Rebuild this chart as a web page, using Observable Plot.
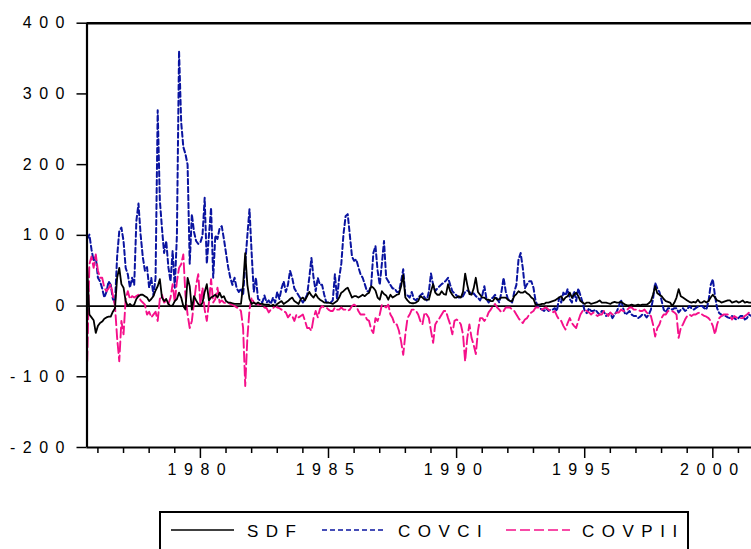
<!DOCTYPE html>
<html>
<head>
<meta charset="utf-8">
<script src="https://cdn.jsdelivr.net/npm/d3@7"></script>
<script src="https://cdn.jsdelivr.net/npm/@observablehq/plot@0.6"></script>
<style>
  html, body { margin: 0; padding: 0; background: #fff; }
  #chart { position: absolute; left: 0; top: 0; }
  #chart svg text { letter-spacing: 7.5px; font-size: 16px !important; }
  #legend { position: absolute; left: 159px; top: 511px; width: 530px; height: 40px; border: 2px solid #000; box-sizing: border-box; background: #fff; }
  #legend svg { position: absolute; left: 0; top: 0; }
  #legend text { font-family: "Liberation Sans", Arial, sans-serif; font-size: 17px; letter-spacing: 7.5px; fill: #000; }
</style>
</head>
<body>
<div id="chart"></div>
<div id="legend"></div>
<script>
// Monthly observations, first one 1975:08
const startYear = 1975, startMonth = 8;

const sdf = [
  54, -12, -16, -20, -38, -28, -24, -22, -18, -16,
  -15, -15, -8, -3, 40, 54, 31, 26, 7, 0,
  3, 0, 2, 10, 14, 16, 16, 14, 12, 7,
  10, 14, 22, 28, 38, 12, 7, 10, 3, 0,
  1, 7, 10, 19, 12, 0, -5, 40, 28, -5,
  14, 8, 3, 0, 5, 20, 31, 8, 12, 14,
  16, 12, 19, 12, 14, 7, 5, 5, 4, 3,
  3, 3, 3, 30, 75, 30, 10, 3, 5, 3,
  5, 3, 3, 2, 2, 2, 0, 2, 0, 3,
  5, 7, 3, 5, 7, 10, 12, 7, 5, 3,
  10, 12, 8, 14, 20, 15, 12, 17, 12, 9,
  7, 5, 5, 5, 4, 3, 5, 7, 12, 19,
  21, 24, 26, 19, 12, 14, 14, 12, 14, 16,
  14, 17, 19, 28, 26, 22, 12, 9, 21, 17,
  15, 9, 16, 12, 14, 16, 17, 28, 44, 12,
  8, 5, 4, 4, 5, 7, 14, 12, 9, 9,
  9, 21, 31, 19, 16, 16, 21, 17, 16, 31,
  21, 16, 12, 12, 14, 12, 20, 46, 30, 17,
  16, 25, 40, 20, 16, 12, 12, 9, 9, 7,
  7, 12, 9, 10, 12, 12, 12, 9, 7, 7,
  14, 17, 21, 19, 19, 21, 18, 16, 12, 10,
  2, 2, 2, 3, 3, 5, 5, 6, 7, 8,
  10, 12, 14, 8, 12, 14, 19, 12, 16, 19,
  14, 7, 5, 3, 5, 5, 3, 4, 5, 6,
  8, 5, 5, 5, 4, 3, 5, 6, 5, 5,
  6, 4, 2, 1, 1, 2, 1, 1, 2, 1,
  2, 2, 2, 4, 7, 16, 28, 18, 16, 14,
  10, 7, 6, 5, 0, 5, 12, 24, 14, 12,
  10, 8, 6, 5, 6, 5, 9, 5, 5, 7,
  5, 7, 12, 16, 12, 8, 7, 5, 6, 7,
  8, 8, 5, 6, 7, 5, 6, 8, 5, 6,
  5, 5
];

const covci = [
  95, 101, 80, 64, 70, 40, 35, 25, 12, 20,
  35, 30, 10, 5, 70, 106, 111, 92, 54, 45,
  26, 40, 30, 120, 145, 101, 70, 50, 55, 26,
  40, 15, 40, 277, 150, 110, 75, 92, 55, 35,
  78, 26, 100, 361, 260, 225, 215, 200, 60, 130,
  105, 92, 88, 90, 100, 153, 60, 100, 139, 40,
  100, 95, 110, 113, 95, 75, 55, 40, 30, 40,
  25, 20, 25, 15, 60, 100, 137, 75, 20, 40,
  10, 8, 5, 15, 5, 8, 3, 12, 5, 20,
  10, 25, 35, 20, 30, 50, 40, 25, 20, 15,
  10, 5, 10, 16, 40, 68, 40, 21, 40, 30,
  30, 16, 5, 5, 5, 8, 45, 10, 40, 60,
  101, 127, 130, 100, 70, 64, 66, 55, 45, 40,
  31, 21, 21, 30, 75, 85, 50, 30, 60, 92,
  40, 35, 30, 25, 25, 20, 20, 35, 52, 15,
  15, 12, 20, 10, 8, 12, 15, 18, 12, 8,
  20, 46, 30, 21, 25, 28, 31, 33, 36, 40,
  30, 21, 18, 15, 12, 12, 14, 20, 22, 20,
  16, 18, 14, 12, 8, 15, 28, 10, 5, 10,
  12, 16, 10, 5, 20, 40, 21, 10, 8, 5,
  20, 30, 66, 75, 54, 25, 31, 35, 35, 26,
  7, 0, -3, -5, -7, -3, -7, -5, -5, -3,
  -7, 12, 5, 19, 15, 24, 10, 5, 21, 7,
  25, 15, 5, -7, -10, -3, -7, -7, -5, -9,
  -12, -7, -8, -14, -12, -10, -17, -12, -8, 0,
  9, -3, -12, -10, -7, -12, -14, -14, -17, -15,
  -12, -12, -16, -12, -5, 10, 33, 25, 20, 8,
  -5, -9, -3, -3, -5, -3, -3, -9, -5, -3,
  -7, -5, 0, -3, -5, -3, -1, 0, 0, -3,
  -5, 7, 30, 38, 15, -3, -10, -12, -14, -14,
  -16, -17, -14, -17, -19, -17, -14, -14, -19, -17,
  -12, -14
];

const covpii = [
  -78, 59, 70, 54, 73, 50, 40, 40, 26, 21,
  25, 31, 15, 0, -45, -78, -21, -40, 10, 21,
  10, 14, 12, 14, 16, 8, 5, 2, -12, -8,
  -16, -12, -8, -21, 10, 16, 5, 8, 3, 12,
  31, 5, 35, 54, 59, 73, 15, -12, -31, -21,
  5, 30, 45, 2, 26, -5, -21, 5, 38, 5,
  10, 26, 5, 8, 5, 4, 5, 3, 2, 0,
  -2, -3, -7, -31, -113, -45, -5, 12, 5, 3,
  2, 2, 0, -2, -3, -9, -5, -3, 0, -2,
  -3, -5, -7, -9, -16, -12, -14, -21, -12, -16,
  -14, -12, -21, -31, -31, -35, -17, -7, -16, -4,
  0, -2, -2, -5, -7, -7, -2, -5, -5, -2,
  -5, -5, -7, -5, 0, 2, 0, -7, -12, -12,
  -12, -19, -21, -33, -38, -17, -21, -12, 2, 0,
  -2, 2, -12, -17, -26, -26, -35, -50, -69, -40,
  -17, -12, -5, -5, -7, -12, -21, -26, -9, -12,
  -17, -35, -52, -26, -21, -17, -12, -7, -7, -17,
  -26, -40, -21, -19, -21, -26, -40, -78, -45, -26,
  -45, -55, -68, -35, -17, -17, -21, -17, -9, -5,
  0, 3, -2, -5, -9, -7, -2, -2, -2, -5,
  -7, -12, -17, -21, -24, -19, -17, -12, -9, -7,
  -2, -2, -2, -5, -3, -2, -5, -7, -9, -7,
  -14, -19, -21, -28, -33, -24, -17, -24, -28, -31,
  -21, -12, -7, -5, -7, -9, -12, -9, -12, -14,
  -12, -12, -7, -10, -14, -9, -12, -12, -9, -9,
  -5, -7, -7, -5, -2, -2, -5, -5, -5, -7,
  -7, -5, -9, -12, -14, -26, -43, -31, -26, -17,
  -12, -12, -7, -7, -7, -9, -12, -45, -31, -26,
  -19, -14, -12, -14, -12, -12, -10, -9, -12, -14,
  -15, -17, -21, -28, -40, -26, -17, -14, -12, -12,
  -12, -14, -19, -14, -16, -17, -17, -17, -14, -12,
  -9, -7
];

const yTicks = [-200, -100, 0, 100, 200, 300, 400];
const majorYears = [1980, 1985, 1990, 1995, 2000];
const minorYears = [1976, 1977, 1978, 1979, 1981, 1982, 1983, 1984, 1986, 1987, 1988, 1989,
  1991, 1992, 1993, 1994, 1996, 1997, 1998, 1999, 2001];
const seriesNames = ["SDF", "COVCI", "COVPII"];
const seriesColors = ["#000000", "#0a14a0", "#f5108a"];
const seriesDash = [null, "5,3", "10,4"];

const rows = sdf.map((v, i) => ({
  date: startYear + (startMonth - 1 + i) / 12,
  sdf: v,
  covci: covci[i],
  covpii: covpii[i]
}));

const xMin = 1975.574, xMax = 2001.51;

const chart = Plot.plot({
  width: 751,
  height: 500,
  marginTop: 22.7,
  marginBottom: 53,
  marginLeft: 86.5,
  marginRight: 0,
  x: {domain: [xMin, xMax]},
  y: {domain: [-200, 400]},
  style: {fontFamily: "'Liberation Sans', Arial, sans-serif", fontSize: "16px", color: "#000", background: "#fff", overflow: "visible"},
  marks: [
    Plot.ruleY([0], {stroke: "#000", strokeWidth: 1.7}),
    Plot.line(rows, {x: "date", y: "covci", stroke: seriesColors[1], strokeWidth: 2, strokeDasharray: seriesDash[1]}),
    Plot.line(rows, {x: "date", y: "covpii", stroke: seriesColors[2], strokeWidth: 1.9, strokeDasharray: seriesDash[2]}),
    Plot.line(rows, {x: "date", y: "sdf", stroke: seriesColors[0], strokeWidth: 1.8}),
    Plot.ruleY([400], {stroke: "#000", strokeWidth: 2.5}),
    Plot.ruleY([-200], {stroke: "#000", strokeWidth: 2}),
    Plot.ruleX([xMin], {stroke: "#000", strokeWidth: 2.2}),
    Plot.axisY(yTicks, {tickSize: 10, tickPadding: 5, fontSize: 16, tickFormat: d => String(d), label: null, strokeWidth: 1.5}),
    Plot.axisX(majorYears, {tickSize: 11, tickPadding: 5, fontSize: 16, tickFormat: d => String(d), label: null, strokeWidth: 1.5}),
    Plot.axisX(minorYears, {tickSize: 6, tickFormat: () => "", label: null, strokeWidth: 1.5})
  ]
});
document.getElementById("chart").appendChild(chart);

// Legend below the chart
const lg = d3.select("#legend").append("svg").attr("width", 526).attr("height", 36);
const lineX = [[10, 73], [161, 225], [345, 409]];
const textX = [86, 237, 421];
seriesNames.forEach((name, i) => {
  lg.append("line")
    .attr("x1", lineX[i][0]).attr("x2", lineX[i][1])
    .attr("y1", 17).attr("y2", 17)
    .attr("stroke", seriesColors[i]).attr("stroke-width", 1.7)
    .attr("stroke-dasharray", seriesDash[i]);
  lg.append("text").attr("x", textX[i]).attr("y", 24).text(name);
});
</script>
</body>
</html>
